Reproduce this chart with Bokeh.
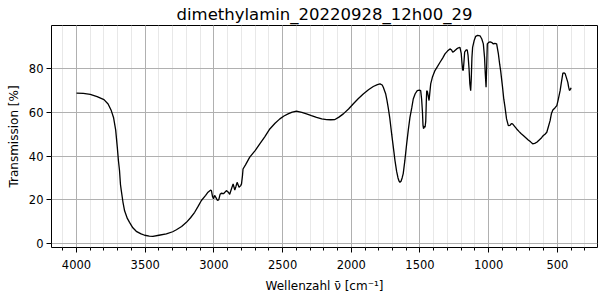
from bokeh.plotting import figure
from bokeh.models import Range1d, SingleIntervalTicker
from bokeh.embed import file_html
from bokeh.resources import INLINE

wavenumber = [4000, 3950, 3900, 3850, 3800, 3770, 3747, 3730, 3715, 3703, 3695, 3687, 3680, 3674,
              3662, 3650, 3630, 3614, 3590, 3565, 3530, 3504, 3470, 3444, 3400, 3346, 3300, 3273,
              3235, 3200, 3170, 3140, 3115, 3091, 3060, 3043, 3025, 3018, 3010, 3003, 2995, 2985,
              2975, 2965, 2955, 2946, 2930, 2909, 2895, 2885, 2875, 2860, 2848, 2840, 2831, 2817,
              2805, 2799, 2792, 2788, 2770, 2739, 2700, 2666, 2630, 2593, 2555, 2520, 2490, 2460,
              2430, 2399, 2360, 2326, 2290, 2253, 2215, 2180, 2150, 2119, 2090, 2058, 2020, 1985,
              1950, 1913, 1875, 1840, 1810, 1791, 1775, 1767, 1750, 1740, 1731, 1720, 1706, 1690,
              1682, 1670, 1660, 1652, 1646, 1638, 1630, 1622, 1610, 1597, 1585, 1573, 1560, 1549,
              1535, 1520, 1505, 1495, 1488, 1482, 1478, 1474, 1470, 1463, 1458, 1454, 1451, 1446,
              1440, 1434, 1430, 1422, 1410, 1391, 1372, 1354, 1335, 1318, 1300, 1282, 1270, 1262,
              1250, 1233, 1220, 1209, 1200, 1195, 1190, 1185, 1180, 1175, 1165, 1156, 1150, 1143,
              1137, 1131, 1127, 1122, 1117, 1105, 1095, 1080, 1063, 1050, 1039, 1030, 1025, 1019,
              1015, 1010, 1000, 990, 980, 966, 955, 942, 930, 920, 913, 900, 890, 881, 870, 857,
              845, 835, 826, 810, 796, 780, 765, 748, 730, 712, 695, 680, 665, 650, 630, 615, 602,
              590, 577, 565, 553, 543, 533, 518, 504, 495, 480, 470, 460, 450, 443, 435, 424, 418,
              412, 405, 400]
transmission = [68.8, 68.7, 68.2, 67.2, 65.8, 63.8, 60.8, 57.5, 52.0, 44.0, 38.0, 33.4, 27.0, 24.2,
                19.0, 15.0, 11.5, 9.7, 7.2, 5.6, 4.4, 3.8, 3.4, 3.3, 3.8, 4.4, 5.4, 6.3,
                7.8, 9.7, 11.8, 14.3, 17.0, 19.7, 22.0, 23.5, 24.4, 24.2, 21.5, 20.5, 22.0, 21.0,
                19.8, 20.0, 22.5, 23.0, 22.8, 24.2, 23.5, 22.5, 24.5, 27.3, 24.5, 26.0, 28.0, 25.7,
                26.5, 27.3, 31.0, 34.1, 36.0, 39.5, 42.5, 45.6, 48.8, 52.4, 55.0, 57.0, 58.3, 59.3,
                60.1, 60.5, 60.0, 59.3, 58.5, 57.7, 57.0, 56.7, 56.6, 56.7, 57.8, 59.3, 61.5, 63.9,
                66.2, 68.4, 70.3, 71.8, 72.7, 73.0, 72.5, 71.5, 68.5, 65.4, 62.0, 57.5, 50.0, 42.0,
                37.9, 33.0, 30.0, 28.5, 28.0, 28.5, 30.0, 32.0, 38.0, 45.6, 52.0, 57.7, 62.0, 66.1,
                68.5, 69.9, 70.2, 69.9, 66.0, 60.0, 54.0, 52.5, 53.5, 53.2, 56.0, 65.0, 69.9, 69.5,
                67.5, 65.4, 68.0, 73.0, 76.0, 79.1, 81.0, 82.9, 84.8, 86.7, 88.0, 89.0, 88.5, 87.5,
                88.0, 89.0, 89.5, 89.7, 87.0, 83.0, 79.5, 79.1, 83.0, 87.5, 88.5, 88.5, 86.0, 80.0,
                73.0, 69.9, 75.0, 85.0, 89.7, 93.0, 94.7, 95.2, 95.0, 93.5, 91.3, 85.0, 78.0, 71.5,
                80.0, 91.3, 92.0, 92.2, 92.0, 91.3, 91.5, 91.3, 87.0, 82.0, 79.1, 72.0, 66.0, 62.3, 57.0, 53.9,
                54.0, 54.8, 54.7, 53.5, 52.4, 51.3, 50.3, 49.4, 48.4, 47.4, 46.5, 45.6, 45.8, 46.3, 47.5, 48.4, 49.4,
                50.0, 50.9, 53.5, 56.2, 59.5, 61.1, 62.0, 63.1, 65.5, 69.9, 74.0, 77.9, 78.0, 77.6, 76.0, 73.7, 71.5,
                70.0, 70.5, 71.2]

title_text = "dimethylamin_20220928_12h00_29"
x_label = "Wellenzahl ν̄ [cm⁻¹]"
y_label = "Transmission [%]"

FONT = "DejaVu Sans"

p = figure(width=600, height=300, output_backend="svg", toolbar_location=None,
           x_range=Range1d(4182, 208), y_range=Range1d(-1.8, 99.7),
           min_border_left=51, min_border_right=3, min_border_top=25, min_border_bottom=53)

p.line(wavenumber, transmission, line_color="black", line_width=1.3)

p.title.text = title_text
p.title.text_font = FONT
p.title.text_font_size = "16.5px"
p.title.text_font_style = "normal"
p.title.align = "center"
p.title.vertical_align = "top"
p.title.text_color = "black"
p.title.standoff = 0
p.title.offset = 0

p.outline_line_color = "black"
p.outline_line_alpha = 1
p.outline_line_width = 1

xt = SingleIntervalTicker(interval=500, num_minor_ticks=5)
yt = SingleIntervalTicker(interval=20, num_minor_ticks=0)
p.xaxis.ticker = xt
p.yaxis.ticker = yt
p.xgrid.ticker = xt
p.ygrid.ticker = yt

for ax in (p.xaxis[0], p.yaxis[0]):
    ax.axis_line_color = None
    ax.major_tick_in = 0
    ax.major_tick_out = 5
    ax.major_tick_line_color = "black"
    ax.minor_tick_in = 0
    ax.minor_tick_out = 3
    ax.minor_tick_line_color = "black"
    ax.major_label_text_font = FONT
    ax.major_label_text_font_size = "11.5px"
    ax.major_label_text_color = "black"
    ax.axis_label_text_font = FONT
    ax.axis_label_text_font_size = "12px"
    ax.axis_label_text_font_style = "normal"
    ax.axis_label_text_color = "black"
    ax.major_label_standoff = 3
    ax.axis_label_standoff = 5

p.xaxis.major_label_standoff = 7
p.xaxis.axis_label_standoff = 7

p.xaxis.axis_label = x_label
p.yaxis.axis_label = y_label

p.xgrid.grid_line_color = "#b0b0b0"
p.xgrid.grid_line_width = 1
p.xgrid.minor_grid_line_color = "#e8e8e8"
p.xgrid.minor_grid_line_width = 1
p.ygrid.grid_line_color = "#b0b0b0"
p.ygrid.grid_line_width = 1

open("out.html", "w").write(file_html(p, INLINE))
